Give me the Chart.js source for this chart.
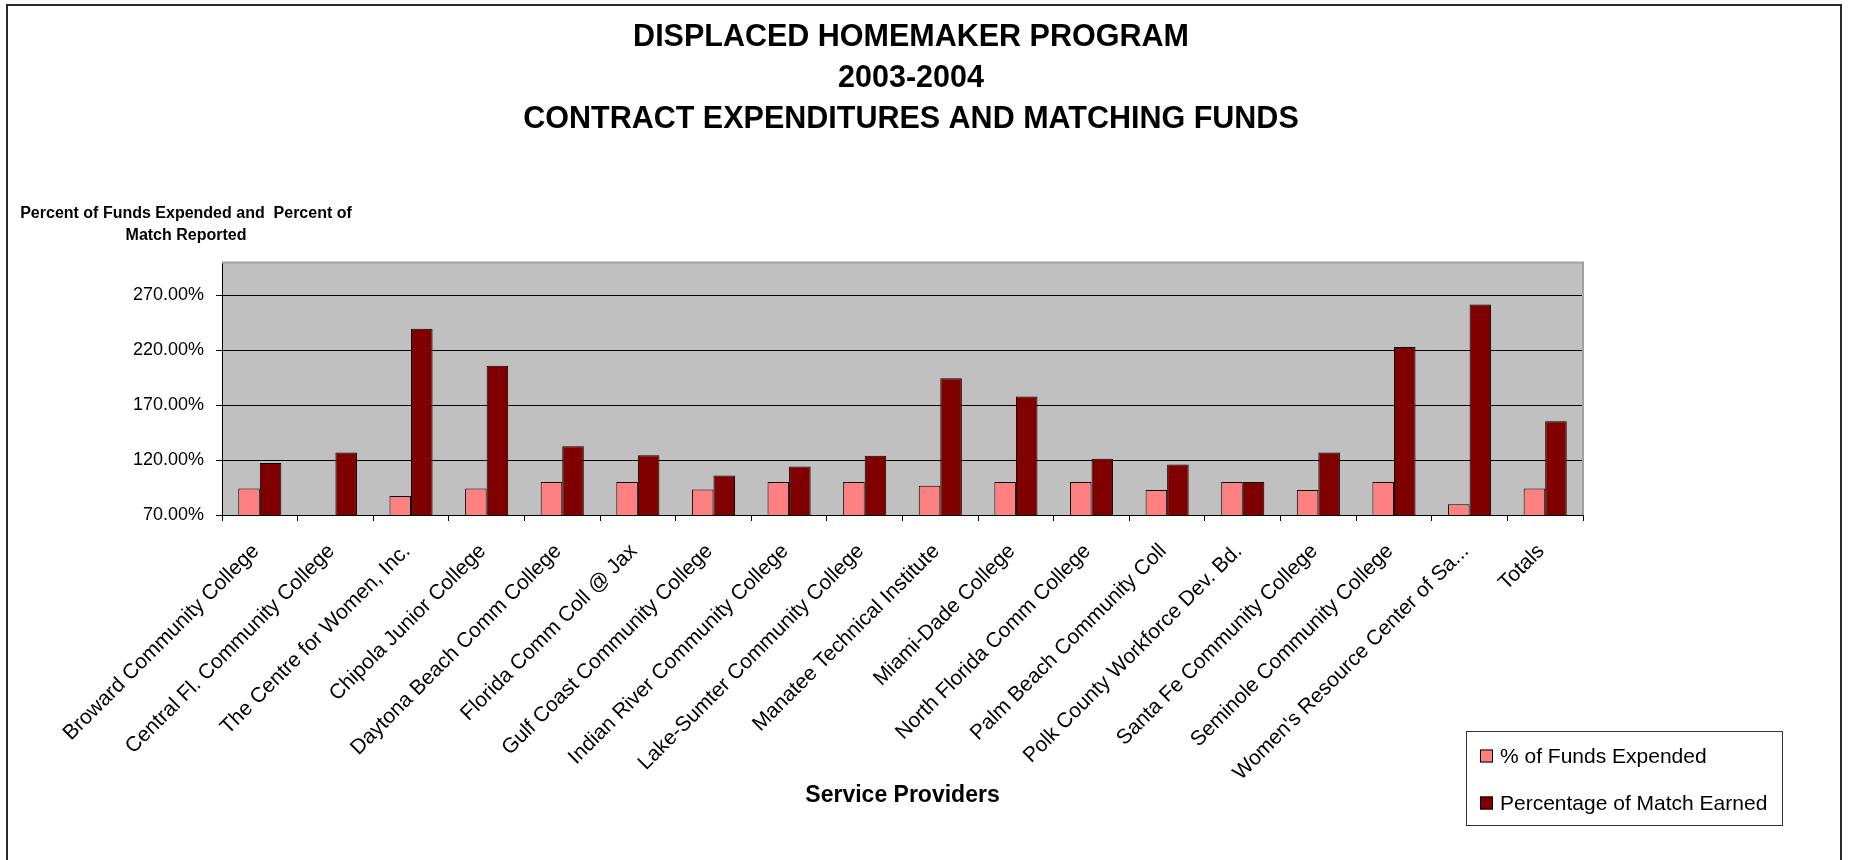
<!DOCTYPE html>
<html lang="en">

<head>
    <meta charset="UTF-8">
    <title>Displaced Homemaker Program 2003-2004</title>
    <script src="https://cdn.jsdelivr.net/npm/chart.js"></script>
    <style>
        body {
            margin: 0;
            width: 1849px;
            height: 860px;
            overflow: hidden;
            background: #ffffff;
            position: relative;
        }

        .frame {
            position: absolute;
            left: 6px;
            top: 4px;
            width: 1832px;
            height: 1000px;
            border: 2px solid #2a2a2a;
        }

        .chart-box {
            position: absolute;
            left: 0;
            top: 0;
            width: 1849px;
            height: 860px;
        }
    </style>
</head>

<body>
    <div class="frame"></div>
    <div class="chart-box">
        <canvas id="homemakerChart" width="1849" height="860"></canvas>
    </div>

    <script>
        const providers = [
            'Broward Community College', 'Central Fl. Community College', 'The Centre for Women, Inc.',
            'Chipola Junior College', 'Daytona Beach Comm College', 'Florida Comm Coll @ Jax',
            'Gulf Coast Community College', 'Indian River Community College', 'Lake-Sumter Community College',
            'Manatee Technical Institute', 'Miami-Dade College', 'North Florida Comm College',
            'Palm Beach Community Coll', 'Polk County Workforce Dev. Bd.', 'Santa Fe Community College',
            'Seminole Community College', "Women's Resource Center of Sa...", 'Totals'
        ];
        const fundsExpended = [94.2, null, 87.3, 94.2, 100, 100, 93.3, 100, 100, 96.7, 100, 100, 92.7, 100, 92.7, 100, 79.7, 94.2];
        const matchEarned = [117.3, 127, 239.7, 206, 132.7, 124.5, 106, 114.2, 123.9, 194.5, 177.9, 121.2, 116, 100, 127, 223, 261.8, 155.5];
        const yTicks = [70, 120, 170, 220, 270];

        Chart.defaults.font.family = '"Liberation Sans", Arial, sans-serif';
        Chart.defaults.color = '#000000';

        // plot background, grey frame, y caption and boxed legend
        const excelLook = {
            id: 'excelLook',
            beforeDraw(chart) {
                const { ctx, chartArea: a } = chart;
                ctx.save();
                ctx.fillStyle = '#c0c0c0';
                ctx.fillRect(a.left, a.top, a.right - a.left, a.bottom - a.top);
                ctx.restore();
            },
            afterDraw(chart) {
                const { ctx, chartArea: a } = chart;
                ctx.save();
                ctx.strokeStyle = '#a0a0a0';
                ctx.lineWidth = 2;
                ctx.beginPath();
                ctx.moveTo(a.left, a.top);
                ctx.lineTo(a.right, a.top);
                ctx.lineTo(a.right, a.bottom);
                ctx.stroke();

                ctx.fillStyle = '#000';
                ctx.font = 'bold 16px "Liberation Sans", Arial, sans-serif';
                ctx.textAlign = 'center';
                ctx.textBaseline = 'middle';
                ctx.fillText('Percent of Funds Expended and  Percent of', 186, 214);
                ctx.fillText('Match Reported', 186, 236);

                // legend
                ctx.strokeStyle = '#333';
                ctx.lineWidth = 1;
                ctx.strokeRect(1466.5, 731.5, 316, 94);
                ctx.font = '21px "Liberation Sans", Arial, sans-serif';
                ctx.textAlign = 'left';
                chart.data.datasets.forEach((ds, i) => {
                    const cy = 756 + i * 47;
                    ctx.fillStyle = ds.backgroundColor;
                    ctx.fillRect(1480, cy - 6.5, 13, 13);
                    ctx.strokeStyle = '#000';
                    ctx.strokeRect(1480.5, cy - 6, 12, 12);
                    ctx.fillStyle = '#000';
                    ctx.fillText(ds.label, 1500, cy + 1);
                });
                ctx.restore();
            }
        };

        const ctx = document.getElementById('homemakerChart').getContext('2d');
        const homemakerChart = new Chart(ctx, {
            type: 'bar',
            data: {
                labels: providers,
                datasets: [{
                    label: '% of Funds Expended',
                    data: fundsExpended,
                    backgroundColor: '#ff8080',
                    borderColor: '#000000',
                    borderWidth: 1,
                    categoryPercentage: 0.57,
                    barPercentage: 1
                }, {
                    label: 'Percentage of Match Earned',
                    data: matchEarned,
                    backgroundColor: '#800000',
                    borderColor: '#000000',
                    borderWidth: 1,
                    categoryPercentage: 0.57,
                    barPercentage: 1
                }]
            },
            options: {
                responsive: false,
                animation: false,
                layout: {
                    padding: { left: 0, right: 27, top: 0, bottom: 0 }
                },
                plugins: {
                    legend: { display: false },
                    tooltip: { enabled: false },
                    title: {
                        display: true,
                        text: ['DISPLACED HOMEMAKER PROGRAM', '2003-2004', 'CONTRACT EXPENDITURES AND MATCHING FUNDS'],
                        color: '#000',
                        font: { size: 30.5, weight: 'bold', lineHeight: 1.35 },
                        padding: { top: 17, bottom: 122 }
                    }
                },
                scales: {
                    x: {
                        grid: {
                            display: true,
                            drawOnChartArea: false,
                            drawTicks: true,
                            tickLength: 6,
                            color: '#000'
                        },
                        border: { display: true, color: '#000', width: 1 },
                        ticks: {
                            autoSkip: false,
                            minRotation: 45,
                            maxRotation: 45,
                            padding: 18,
                            labelOffset: -4,
                            font: { size: 21 },
                            color: '#000'
                        },
                        title: {
                            display: true,
                            text: 'Service Providers',
                            font: { size: 23, weight: 'bold' },
                            padding: { top: 0, bottom: 51 }
                        },
                        afterFit(scale) { scale.height = 345; }
                    },
                    y: {
                        min: 70,
                        max: 300,
                        grid: {
                            color: '#000',
                            tickLength: 6,
                            drawTicks: true
                        },
                        border: { display: true, color: '#000', width: 1 },
                        ticks: {
                            padding: 12,
                            font: { size: 18 },
                            color: '#000',
                            callback: (v) => v.toFixed(2) + '%'
                        },
                        afterBuildTicks(scale) {
                            scale.ticks = yTicks.map(v => ({ value: v }));
                        },
                        afterFit(scale) { scale.width = 222; }
                    },
                    pad: {
                        type: 'linear',
                        position: 'right',
                        display: true,
                        grid: { display: false, drawTicks: false },
                        border: { display: false },
                        ticks: { display: false },
                        afterFit(scale) { scale.width = 239; }
                    }
                }
            },
            plugins: [excelLook]
        });
    </script>
</body>

</html>
